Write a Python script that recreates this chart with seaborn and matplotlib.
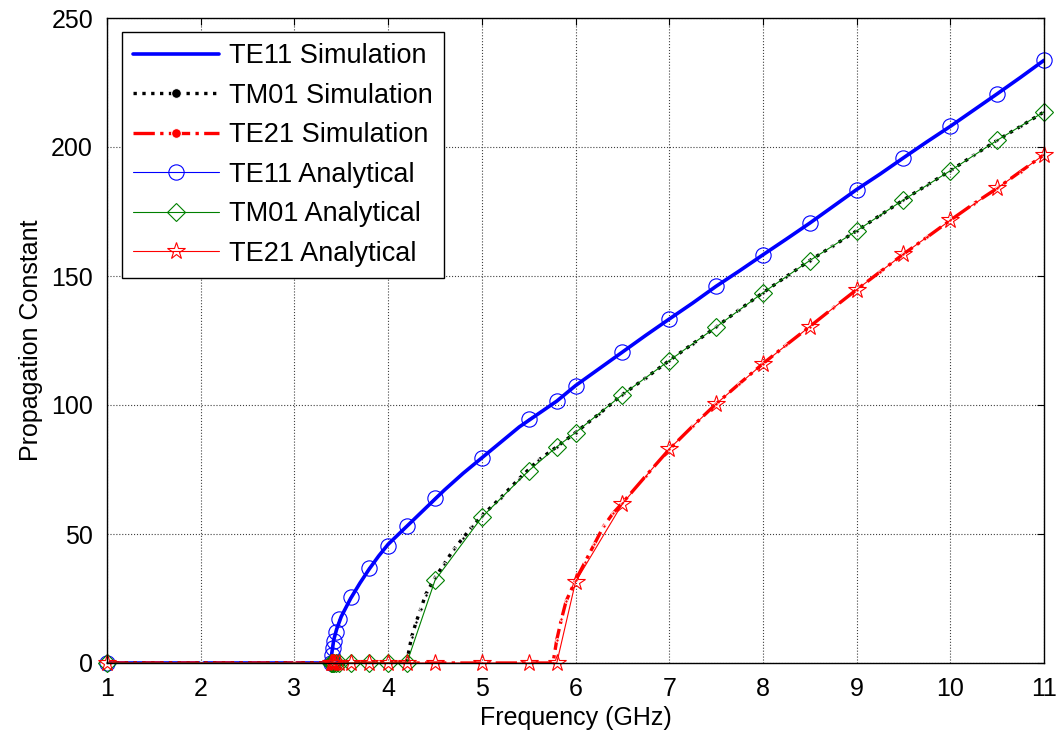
import matplotlib
matplotlib.use("Agg")
import matplotlib.pyplot as plt
import seaborn as sns
import numpy as np

# ==========================================
# Data
# ==========================================

# Analytical points (shared frequency grid, GHz)
freq_ana = [1.0, 3.39, 3.40, 3.41, 3.42, 3.44, 3.48, 3.6, 3.8, 4.0, 4.2, 4.5,
            5.0, 5.5, 5.8, 6.0, 6.5, 7.0, 7.5, 8.0, 8.5, 9.0, 9.5, 10.0, 10.5, 11.0]
te11_ana = [0, 0, 3, 6, 8.5, 12, 17, 25.5, 37, 45.5, 53, 64,
            79.5, 94.5, 101.5, 107.5, 120.5, 133.5, 146, 158.2, 170.5, 183.5, 195.8, 208, 220.5, 233.6]
tm01_ana = [0, 0, 0, 0, 0, 0, 0, 0, 0, 0, 0, 32,
            56.5, 74.5, 83.8, 89.3, 104, 117.2, 130.2, 143.5, 156, 167.5, 179.5, 190.8, 202.6, 213.6]
te21_ana = [0, 0, 0, 0, 0, 0, 0, 0, 0, 0, 0, 0,
            0, 0, 0, 31.4, 61.7, 83, 100.4, 116, 130.4, 144.7, 158.5, 171.6, 184, 197]

# Simulation curves
freq_te11_sim = [1.0, 2.0, 3.0, 3.39, 3.40, 3.42, 3.45, 3.5, 3.6, 3.7, 3.8, 3.9, 4.0,
                 4.2, 4.4, 4.6, 4.8, 5.0, 5.2, 5.4, 5.6, 5.8, 6.0, 6.25, 6.5, 6.75,
                 7.0, 7.25, 7.5, 7.75, 8.0, 8.25, 8.5, 8.75, 9.0, 9.25, 9.5, 9.75,
                 10.0, 10.25, 10.5, 10.75, 11.0]
te11_sim = [0, 0, 0, 0, 4, 9, 13, 18, 25, 31, 36.5, 41.5, 46,
            53, 60, 67, 73.5, 79.5, 85.5, 91.5, 96.5, 101.5, 107.5, 114, 120.5, 127,
            133.3, 139.5, 146, 152, 158.2, 164.3, 170.5, 177, 183.5, 189.5, 195.8, 202,
            208, 214.3, 220.6, 227, 233.6]

freq_tm01_sim = [1.0, 2.0, 3.0, 4.0, 4.2, 4.21, 4.25, 4.3, 4.35, 4.4, 4.5, 4.6, 4.7,
                 4.8, 4.9, 5.0, 5.2, 5.4, 5.6, 5.8, 6.0, 6.25, 6.5, 6.75, 7.0, 7.25,
                 7.5, 7.75, 8.0, 8.25, 8.5, 8.75, 9.0, 9.25, 9.5, 9.75, 10.0, 10.25,
                 10.5, 10.75, 11.0]
tm01_sim = [0, 0, 0, 0, 0, 2.5, 10, 16, 21, 26.5, 33, 38.5, 44,
            48.5, 53, 57, 64, 71.5, 78.5, 83.8, 89.3, 96.5, 104, 110.5, 117.2, 123.7,
            130.2, 137, 143.5, 149.8, 156, 161.7, 167.5, 173.5, 179.5, 185.2, 190.8, 196.8,
            202.6, 208, 213.6]

freq_te21_sim = [1.0, 2.0, 3.0, 4.0, 5.0, 5.76, 5.8, 5.85, 5.9, 6.0, 6.1, 6.2, 6.3,
                 6.4, 6.5, 6.75, 7.0, 7.25, 7.5, 7.75, 8.0, 8.25, 8.5, 8.75, 9.0,
                 9.25, 9.5, 9.75, 10.0, 10.25, 10.5, 10.75, 11.0]
te21_sim = [0, 0, 0, 0, 0, 0, 9, 17, 24, 32, 39, 46, 53,
            58, 62, 72.5, 82.8, 91.8, 100.4, 108.3, 116, 123.3, 130.4, 137.6, 144.7,
            151.6, 158.5, 165, 171.6, 178, 184, 190.5, 197]

x_ticks = [1, 2, 3, 4, 5, 6, 7, 8, 9, 10, 11]
y_ticks = [0, 50, 100, 150, 200, 250]

# ==========================================
# Plot
# ==========================================

sns.set_style("white")
plt.rcParams['font.family'] = ['Liberation Sans', 'DejaVu Sans']
plt.rcParams['text.color'] = 'black'
plt.rcParams['axes.labelcolor'] = 'black'

fig, ax = plt.subplots(figsize=(10.63, 7.42), dpi=100)
fig.subplots_adjust(left=107 / 1063, right=1044 / 1063, bottom=1 - 663 / 742, top=1 - 18 / 742)

sns.lineplot(x=freq_te11_sim, y=te11_sim, ax=ax, color='#0000FF', linewidth=2.6,
             linestyle='-', estimator=None, sort=False, label='TE11 Simulation')
sns.lineplot(x=freq_tm01_sim, y=tm01_sim, ax=ax, color='black', linewidth=2.4,
             linestyle=':', marker='.', markersize=5, estimator=None, sort=False,
             label='TM01 Simulation')
sns.lineplot(x=freq_te21_sim, y=te21_sim, ax=ax, color='#FF0000', linewidth=2.4,
             linestyle='-.', marker='.', markersize=5, estimator=None, sort=False,
             label='TE21 Simulation')
sns.lineplot(x=freq_ana, y=te11_ana, ax=ax, color='#0000FF', linewidth=0.8,
             marker='o', markersize=11, markerfacecolor='none', markeredgecolor='#0000FF',
             markeredgewidth=0.8, estimator=None, sort=False, label='TE11 Analytical',
             clip_on=False)
sns.lineplot(x=freq_ana, y=tm01_ana, ax=ax, color='#008000', linewidth=0.8,
             marker='D', markersize=9, markerfacecolor='none', markeredgecolor='#008000',
             markeredgewidth=0.8, estimator=None, sort=False, label='TM01 Analytical',
             clip_on=False)
sns.lineplot(x=freq_ana, y=te21_ana, ax=ax, color='#FF0000', linewidth=0.8,
             marker='*', markersize=13, markerfacecolor='none', markeredgecolor='#FF0000',
             markeredgewidth=0.8, estimator=None, sort=False, label='TE21 Analytical',
             clip_on=False)

ax.set_xlim(1, 11)
ax.set_ylim(0, 250)
ax.set_xticks(x_ticks)
ax.set_yticks(y_ticks)
ax.tick_params(direction='in', length=5, width=0.8, top=True, right=True,
               labelsize=18, colors='black', pad=10)
ax.grid(True, linestyle=':', color='0.25', linewidth=0.8)
for side in ax.spines.values():
    side.set_color('black')
    side.set_linewidth(1.0)

ax.set_xlabel('Frequency (GHz)', fontsize=18, labelpad=4, color='black')
ax.set_ylabel('Propagation Constant', fontsize=18, labelpad=6, color='black')

leg = ax.legend(loc='upper left', bbox_to_anchor=(0.016, 0.978), borderaxespad=0,
                fontsize=19.5, handlelength=3.2, handletextpad=0.35, labelspacing=0.5,
                fancybox=False, framealpha=1, edgecolor='black', borderpad=0.4)
leg.get_frame().set_linewidth(1.0)
for t in leg.get_texts():
    t.set_color('black')
for h in leg.legend_handles[1:3]:
    h.set_markersize(14)

fig.savefig('out.png', dpi=100)
